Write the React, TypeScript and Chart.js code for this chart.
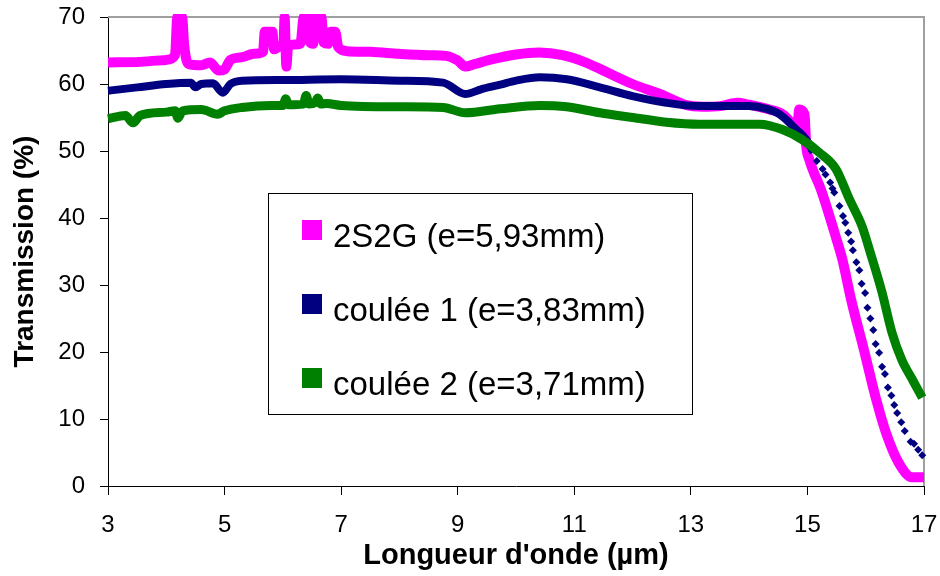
import React, { useEffect, useRef } from 'react';
import { Chart, registerables } from 'chart.js';

Chart.register(...registerables);

const FONT = 'Arial, "Liberation Sans", sans-serif';

const seriesLabels = ['2S2G (e=5,93mm)', 'coulée 1 (e=3,83mm)', 'coulée 2 (e=3,71mm)'];
const seriesColors = ['#FF00FF', '#000080', '#008000'];

const xTicks = [3, 5, 7, 9, 11, 13, 15, 17];
const yTicks = [0, 10, 20, 30, 40, 50, 60, 70];

// 2S2G (e=5,93mm)
const pinkX = [3.0, 3.5, 4.0, 4.15, 4.19, 4.27, 4.31, 4.38, 4.6, 4.75,
  4.9, 5.0, 5.1, 5.3, 5.5, 5.66, 5.69, 5.82, 5.85, 5.95,
  6.01, 6.03, 6.06, 6.09, 6.12, 6.2, 6.3, 6.36, 6.42, 6.46,
  6.52, 6.56, 6.66, 6.7, 6.78, 6.82, 6.9, 6.95, 7.1, 7.5,
  8.0, 8.5, 8.8, 9.0, 9.13, 9.3, 9.6, 10.0, 10.4, 10.8,
  11.2, 11.5, 12.0, 12.5, 12.9, 13.2, 13.5, 13.8, 14.0, 14.3,
  14.57, 14.74, 14.82, 14.86, 14.95, 14.98, 15.03, 15.25, 15.5, 15.6,
  15.75, 15.97, 16.18, 16.35, 16.57, 16.8, 17.0];
const pinkY = [63.2, 63.3, 63.6, 64.3, 70, 70, 65.5, 63.0, 62.8, 63.2,
  62.0, 62.2, 63.6, 64.0, 64.5, 64.8, 67.8, 67.8, 65.2, 65.6,
  65.8, 70, 62.6, 65.6, 65.8, 65.9, 66.0, 70, 70, 66.3,
  66.0, 70, 70, 66.2, 66.0, 67.8, 67.8, 65.5, 64.9, 64.8,
  64.5, 64.3, 64.2, 63.5, 62.6, 63.0, 63.7, 64.4, 64.7, 64.3,
  63.2, 62.0, 60.0, 58.4, 56.9, 56.6, 56.7, 57.2, 56.9, 56.3,
  55.5, 54.0, 53.0, 56.2, 55.5, 50.7, 48.8, 43.8, 36.8, 33.8,
  27.8, 20.3, 12.9, 7.9, 3.4, 1.3, 1.3];

// coulée 1 (e=3,83mm): continuous part
const navyX = [3.0, 3.5, 4.0, 4.42, 4.5, 4.6, 4.8, 4.97, 5.1, 5.3,
  6.0, 7.0, 8.0, 8.75, 9.13, 9.4, 9.73, 10.0, 10.41, 10.87,
  11.44, 12.0, 12.58, 13.15, 13.5, 14.0, 14.3, 14.52, 14.81, 14.98, 15.1];
const navyY = [59.0, 59.5, 60.0, 60.2, 59.5, 60.0, 60.1, 58.7, 60.0, 60.5,
  60.6, 60.7, 60.5, 60.2, 58.5, 59.2, 59.9, 60.5, 61.0, 60.7,
  59.5, 58.2, 57.2, 56.7, 56.7, 56.7, 56.3, 55.5, 53.2, 51.7, 49.8];
// coulée 1: separated diamond markers on the descent
const navyDotX = [15.16, 15.26, 15.31, 15.39, 15.43, 15.46, 15.55, 15.61, 15.65, 15.70,
  15.75, 15.78, 15.84, 15.89, 15.93, 15.99, 16.03, 16.08, 16.13, 16.17,
  16.23, 16.28, 16.33, 16.38, 16.44, 16.49, 16.54, 16.61, 16.67, 16.77,
  16.83, 16.90, 16.97];
const navyDotY = [48.5, 47.3, 46.5, 45.3, 44.4, 43.8, 41.8, 40.3, 39.3, 37.8,
  36.5, 35.2, 33.4, 32.2, 30.2, 28.8, 26.6, 25.0, 23.3, 21.2,
  19.9, 17.8, 16.7, 14.7, 13.5, 12.1, 10.9, 9.5, 8.2, 6.6,
  6.3, 5.4, 4.6];

// coulée 2 (e=3,71mm)
const greenX = [3.0, 3.3, 3.43, 3.55, 4.0, 4.15, 4.2, 4.28, 4.6, 4.88,
  5.0, 5.3, 5.8, 6.0, 6.05, 6.1, 6.35, 6.4, 6.45, 6.55,
  6.6, 6.65, 6.75, 7.0, 8.0, 8.75, 9.13, 9.73, 10.41, 10.87,
  11.44, 12.0, 12.58, 13.15, 14.18, 14.57, 14.91, 15.2, 15.49, 15.72,
  15.94, 16.08, 16.28, 16.45, 16.62, 16.8, 16.97];
const greenY = [54.8, 55.3, 54.2, 55.3, 55.8, 56.0, 54.9, 56.0, 56.2, 55.5,
  56.0, 56.5, 56.8, 56.8, 57.8, 56.9, 57.0, 58.3, 57.0, 57.2,
  57.9, 57.0, 57.1, 56.8, 56.6, 56.5, 55.7, 56.3, 56.8, 56.6,
  55.7, 55.0, 54.3, 54.0, 54.0, 53.2, 51.7, 49.8, 47.3, 42.8,
  38.7, 34.8, 28.9, 22.9, 18.8, 15.9, 13.2];

const pts = (xs: number[], ys: number[]) => xs.map((x, i) => ({ x, y: ys[i] }));

const frameClip = { left: 6, top: 3, right: 6, bottom: 6 };

const plotFrame = {
  id: 'plotFrame',
  beforeDatasetsDraw(chart: any) {
    const { ctx, chartArea: a } = chart;
    ctx.save();
    ctx.strokeStyle = '#a0a0a0';
    ctx.lineWidth = 2;
    ctx.beginPath();
    ctx.moveTo(a.left, a.top);
    ctx.lineTo(a.right, a.top);
    ctx.lineTo(a.right, a.bottom);
    ctx.stroke();
    ctx.restore();
  },
};

const boxLegend = {
  id: 'boxLegend',
  afterDatasetsDraw(chart: any) {
    const { ctx, chartArea: a } = chart;
    const bx = Math.round(a.left + 160);
    const by = Math.round(a.top + 176);
    const bw = 424;
    const bh = 221;
    ctx.save();
    ctx.fillStyle = '#ffffff';
    ctx.fillRect(bx, by, bw, bh);
    ctx.strokeStyle = '#000000';
    ctx.lineWidth = 1;
    ctx.strokeRect(bx + 0.5, by + 0.5, bw, bh);
    ctx.font = '33px ' + FONT;
    ctx.textBaseline = 'alphabetic';
    ctx.textAlign = 'left';
    seriesLabels.forEach((lab, i) => {
      const cy = by + 37 + i * 74;
      ctx.fillStyle = seriesColors[i];
      ctx.fillRect(bx + 34, cy - 10, 20, 20);
      ctx.fillStyle = '#000000';
      ctx.fillText(lab, bx + 65, cy + 17);
    });
    ctx.restore();
  },
};

export default function App() {
  const ref = useRef<HTMLCanvasElement>(null);
  useEffect(() => {
    document.body.style.margin = '0';
    Chart.defaults.font.family = FONT;
    const canvas = ref.current as HTMLCanvasElement;
    const lineCommon = {
      pointRadius: 0,
      tension: 0,
      cubicInterpolationMode: 'monotone',
      borderJoinStyle: 'bevel',
      borderCapStyle: 'butt',
      clip: frameClip,
    };
    const chart = new Chart(canvas, {
      type: 'line',
      data: {
        datasets: [
          {
            ...lineCommon,
            label: seriesLabels[0],
            data: pts(pinkX, pinkY),
            borderColor: seriesColors[0],
            backgroundColor: seriesColors[0],
            borderWidth: 10,
            order: 3,
          },
          {
            ...lineCommon,
            label: seriesLabels[1],
            data: pts(navyX, navyY),
            borderColor: seriesColors[1],
            backgroundColor: seriesColors[1],
            borderWidth: 8,
            order: 2,
          },
          {
            label: seriesLabels[1] + ' ',
            data: pts(navyDotX, navyDotY),
            showLine: false,
            borderColor: seriesColors[1],
            backgroundColor: seriesColors[1],
            pointStyle: 'rectRot',
            pointRadius: 4,
            pointBorderWidth: 0,
            clip: frameClip,
            order: 2,
          },
          {
            ...lineCommon,
            label: seriesLabels[2],
            data: pts(greenX, greenY),
            borderColor: seriesColors[2],
            backgroundColor: seriesColors[2],
            borderWidth: 9,
            order: 1,
          },
        ],
      },
      options: {
        animation: false,
        responsive: false,
        devicePixelRatio: 1,
        layout: { padding: { top: 17, right: 16, left: 0, bottom: 0 } },
        plugins: { legend: { display: false }, tooltip: { enabled: false } },
        scales: {
          x: {
            type: 'linear',
            min: 3,
            max: 17,
            afterFit: (s: any) => {
              s.height = 90;
              s.paddingLeft = 0;
              s.paddingRight = 0;
            },
            afterBuildTicks: (s: any) => { s.ticks = xTicks.map((v) => ({ value: v })); },
            ticks: { color: '#000', font: { size: 24 }, padding: 16, maxRotation: 0, autoSkip: false },
            grid: { drawOnChartArea: false, drawTicks: true, tickLength: 9, color: '#000', lineWidth: 1 },
            border: { display: true, color: '#000', width: 1 },
            title: {
              display: true,
              text: "Longueur d'onde (µm)",
              color: '#000',
              font: { size: 29, weight: 'bold' },
              padding: { top: 0, bottom: 3 },
            },
          },
          y: {
            type: 'linear',
            min: 0,
            max: 70,
            afterFit: (s: any) => {
              s.width = 108;
              s.paddingTop = 0;
              s.paddingBottom = 0;
            },
            afterBuildTicks: (s: any) => { s.ticks = yTicks.map((v) => ({ value: v })); },
            ticks: { color: '#000', font: { size: 24 }, padding: 15, autoSkip: false },
            grid: { drawOnChartArea: false, drawTicks: true, tickLength: 8, color: '#000', lineWidth: 1 },
            border: { display: true, color: '#000', width: 1 },
            title: {
              display: true,
              text: 'Transmission (%)',
              color: '#000',
              font: { size: 28, weight: 'bold' },
              padding: { top: 8, bottom: 0 },
            },
          },
        },
      },
      plugins: [plotFrame, boxLegend],
    } as any);
    return () => chart.destroy();
  }, []);
  return (
    <div style={{ width: 940, height: 576 }}>
      <canvas ref={ref} width={940} height={576} />
    </div>
  );
}
